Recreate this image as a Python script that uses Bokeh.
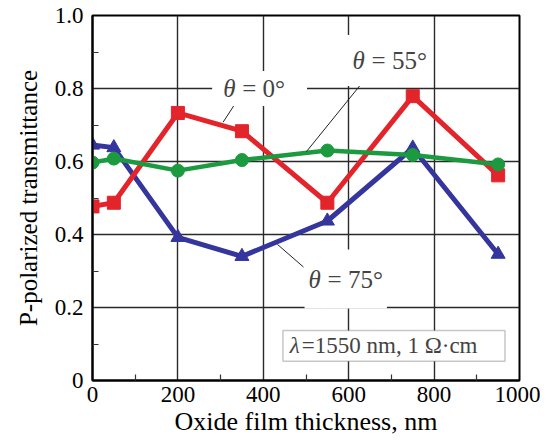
from bokeh.plotting import figure
from bokeh.models import Label, BoxAnnotation, FixedTicker
from bokeh.embed import file_html
from bokeh.resources import INLINE

thickness = [0, 50, 200, 350, 550, 750, 950]
t_theta0 = [0.477, 0.487, 0.733, 0.683, 0.487, 0.779, 0.562]
t_theta55 = [0.597, 0.608, 0.575, 0.604, 0.630, 0.618, 0.592]
t_theta75 = [0.645, 0.638, 0.392, 0.340, 0.437, 0.637, 0.346]

x_ticks = [0, 200, 400, 600, 800, 1000]
x_minor = [100, 300, 500, 700, 900]
y_ticks = [0, 0.2, 0.4, 0.6, 0.8, 1.0]
y_minor = [0.1, 0.3, 0.5, 0.7, 0.9]
y_tick_labels = {0: "0", 0.2: "0.2", 0.4: "0.4", 0.6: "0.6", 0.8: "0.8", 1.0: "1.0"}

# leader lines for series labels: (x0, y0) -> (x1, y1)
leader_x0 = [335, 665, 494]
leader_y0 = [0.760, 0.864, 0.311]
leader_x1 = [306, 501, 433]
leader_y1 = [0.708, 0.627, 0.373]

RED = "#e3242b"
GREEN = "#1c9a40"
BLUE = "#35359e"
FONT = "Liberation Serif"

p = figure(width=540, height=439, x_range=(0, 1000), y_range=(0, 1.0),
           output_backend="svg", toolbar_location=None,
           min_border_left=92, min_border_right=21, min_border_top=15, min_border_bottom=59)
p.background_fill_color = "white"
p.border_fill_color = "white"
p.outline_line_color = "black"
p.outline_line_width = 2

for ax in (p.xaxis[0], p.yaxis[0]):
    ax.axis_line_color = "black"
    ax.axis_line_width = 2
    ax.major_tick_in = 0
    ax.major_tick_out = 0
    ax.minor_tick_in = 6
    ax.minor_tick_out = 0
    ax.minor_tick_line_color = "#333333"
    ax.minor_tick_line_width = 1.2
    ax.major_label_text_font = FONT
    ax.major_label_text_font_size = "23px"
    ax.major_label_text_color = "black"
    ax.axis_label_text_font = FONT
    ax.axis_label_text_font_style = "normal"
    ax.axis_label_text_color = "black"

p.xaxis.axis_label_text_font_size = "26px"
p.yaxis.axis_label_text_font_size = "25px"
p.xaxis.ticker = FixedTicker(ticks=x_ticks, minor_ticks=x_minor)
p.yaxis.ticker = FixedTicker(ticks=y_ticks, minor_ticks=y_minor)
p.yaxis.major_label_overrides = y_tick_labels
p.xaxis.axis_label = "Oxide film thickness, nm"
p.yaxis.axis_label = "P-polarized transmittance"
p.xaxis.major_label_standoff = 6
p.yaxis.major_label_standoff = 9
p.xaxis.axis_label_standoff = 2
p.yaxis.axis_label_standoff = 10

p.xgrid.ticker = FixedTicker(ticks=x_ticks)
p.ygrid.ticker = FixedTicker(ticks=y_ticks)
for g in (p.xgrid[0], p.ygrid[0]):
    g.grid_line_color = "#2a2a2a"
    g.grid_line_width = 1.4

# series
p.line(thickness, t_theta75, line_color=BLUE, line_width=5)
p.scatter(thickness, t_theta75, marker="triangle", size=14, fill_color=BLUE, line_color=BLUE)
p.line(thickness, t_theta0, line_color=RED, line_width=5)
p.scatter(thickness, t_theta0, marker="square", size=13, fill_color=RED, line_color=RED)
p.line(thickness, t_theta55, line_color=GREEN, line_width=4.5)
p.scatter(thickness, t_theta55, marker="circle", size=13, fill_color=GREEN, line_color=GREEN)

# leader lines
p.segment(leader_x0, leader_y0, leader_x1, leader_y1, line_color="#222222", line_width=1)


def theta_label(x, y, rest, pad_l, pad_r, pad_v):
    # padding tuples are (left, right, top, bottom); padding shifts the text, so offsets compensate
    p.add_layout(Label(x=x, y=y, x_units="data", y_units="data", text="= " + rest,
                       text_font=FONT, text_font_size="25px",
                       text_baseline="middle", text_align="left",
                       background_fill_color="white", padding=(5, pad_r, pad_v, pad_v),
                       x_offset=14))
    p.add_layout(Label(x=x, y=y, x_units="data", y_units="data", text="θ",
                       text_font=FONT, text_font_style="italic", text_font_size="25px",
                       text_baseline="middle", text_align="left",
                       background_fill_color="white", padding=(pad_l, 3, pad_v, pad_v),
                       x_offset=-pad_l))


theta_label(306, 0.80, "0°", pad_l=11, pad_r=22, pad_v=4)
theta_label(609, 0.877, "55°", pad_l=6, pad_r=4, pad_v=12)
theta_label(506, 0.278, "75°", pad_l=4, pad_r=4, pad_v=16)

# condition box
p.add_layout(BoxAnnotation(left=446, right=966, bottom=0.053, top=0.137,
                           fill_color="white", fill_alpha=1.0,
                           line_color="#444444", line_width=1.5))
p.add_layout(Label(x=462, y=0.095, x_units="data", y_units="data", text="λ",
                   text_font=FONT, text_font_style="italic", text_font_size="23px",
                   text_baseline="middle", text_align="left"))
p.add_layout(Label(x=462, y=0.095, x_units="data", y_units="data", text="=1550 nm, 1  Ω·cm",
                   text_font=FONT, text_font_size="23px",
                   text_baseline="middle", text_align="left", x_offset=12))

open("out.html", "w").write(file_html(p, INLINE))
